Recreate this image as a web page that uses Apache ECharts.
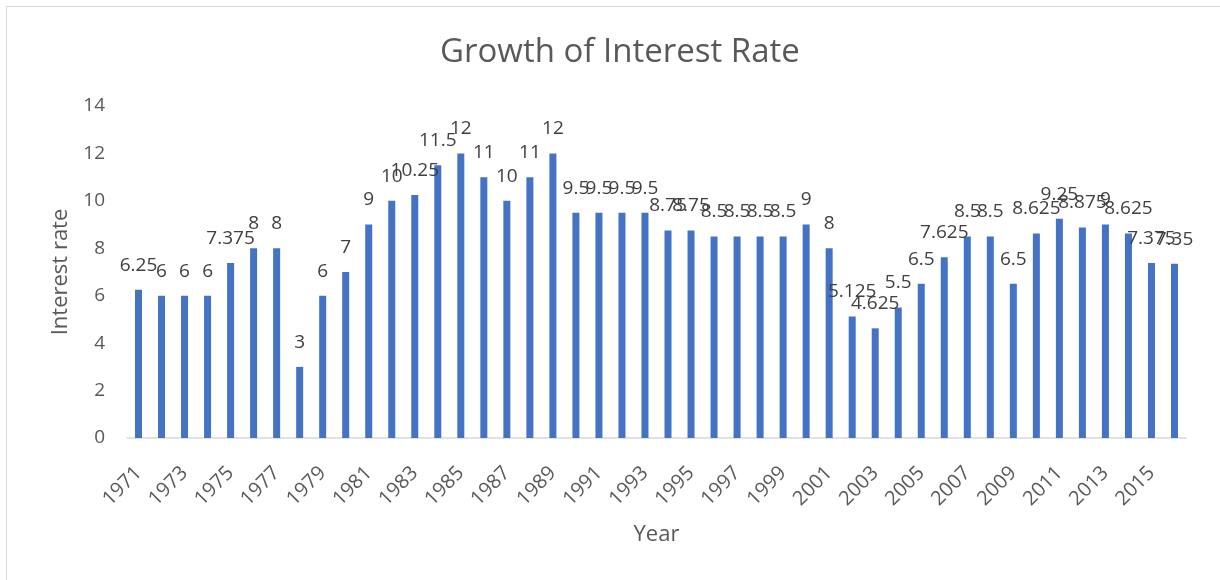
<!DOCTYPE html>
<html>
<head>
<meta charset="utf-8">
<script src="https://cdn.jsdelivr.net/npm/echarts@6/dist/echarts.min.js"></script>
<style>
  html, body { margin: 0; padding: 0; background: #fff; overflow: hidden; }
  #frame { position: absolute; left: 6px; top: 6px; width: 1240px; height: 600px; border: 1px solid #d9d9d9; box-sizing: border-box; }
  #chart { position: absolute; left: 0; top: 0; width: 1220px; height: 580px; }
</style>
</head>
<body>
<div id="frame"></div>
<div id="chart"></div>
<script>
// Yearly interest rate, 1971–2016
const years = [
  '1971','1972','1973','1974','1975','1976','1977','1978','1979','1980',
  '1981','1982','1983','1984','1985','1986','1987','1988','1989','1990',
  '1991','1992','1993','1994','1995','1996','1997','1998','1999','2000',
  '2001','2002','2003','2004','2005','2006','2007','2008','2009','2010',
  '2011','2012','2013','2014','2015','2016'
];
const rates = [
  6.25, 6, 6, 6, 7.375, 8, 8, 3, 6, 7,
  9, 10, 10.25, 11.5, 12, 11, 10, 11, 12, 9.5,
  9.5, 9.5, 9.5, 8.75, 8.75, 8.5, 8.5, 8.5, 8.5, 9,
  8, 5.125, 4.625, 5.5, 6.5, 7.625, 8.5, 8.5, 6.5, 8.625,
  9.25, 8.875, 9, 8.625, 7.375, 7.35
];
const yTicks = [0, 2, 4, 6, 8, 10, 12, 14];

const font = '"Open Sans", "Liberation Sans", sans-serif';
const chart = echarts.init(document.getElementById('chart'), null, { renderer: 'canvas' });
chart.setOption({
  animation: false,
  backgroundColor: 'transparent',
  title: {
    text: 'Growth of Interest Rate',
    left: 440,
    top: 36,
    padding: 0,
    textStyle: { fontFamily: font, fontSize: 33, fontWeight: 'normal', color: '#595959' }
  },
  grid: { left: 127, right: 34, top: 106, bottom: 142 },
  xAxis: {
    type: 'category',
    data: years,
    name: 'Year',
    nameLocation: 'middle',
    nameGap: 86,
    nameTextStyle: { fontFamily: font, fontSize: 22, color: '#595959' },
    axisLine: { lineStyle: { color: '#d9d9d9', width: 1.5 } },
    axisTick: { show: false },
    axisLabel: {
      interval: 1,
      rotate: 45,
      margin: 32,
      fontFamily: font,
      fontSize: 20,
      color: '#595959'
    }
  },
  yAxis: {
    type: 'value',
    min: yTicks[0],
    max: yTicks[yTicks.length - 1],
    interval: 2,
    name: 'Interest rate',
    nameLocation: 'middle',
    nameGap: 55,
    nameTextStyle: { fontFamily: font, fontSize: 22, color: '#595959' },
    axisLine: { show: false },
    axisTick: { show: false },
    splitLine: { show: false },
    axisLabel: { margin: 22, fontFamily: font, fontSize: 19, color: '#595959' }
  },
  series: [{
    type: 'bar',
    data: rates,
    barWidth: 7,
    itemStyle: { color: '#4472c4' },
    label: {
      show: true,
      position: 'top',
      distance: 15,
      fontFamily: font,
      fontSize: 19,
      color: '#404040'
    },
    labelLayout: { hideOverlap: false }
  }]
});
</script>
</body>
</html>
